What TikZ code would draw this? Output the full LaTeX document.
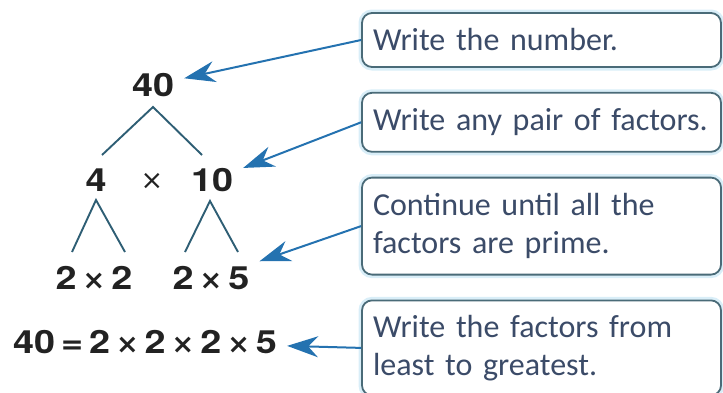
\documentclass[tikz,border=0pt]{standalone}
\usepackage{fontspec}
\setmainfont{Carlito}
\newfontfamily\numfont[FakeStretch=1.18]{TeX Gyre Heros}
\newfontfamily\symfont{DejaVu Sans}
\definecolor{boxline}{HTML}{4A6B78}
\definecolor{glow}{HTML}{D9EEF8}
\definecolor{boxtext}{HTML}{3B4B68}
\definecolor{arrowblue}{HTML}{2472B0}
\definecolor{branchc}{HTML}{2E5E74}
\definecolor{numc}{HTML}{222222}
\usetikzlibrary{arrows.meta,positioning}
\hyphenpenalty=10000
\newcommand\tm{\hspace{6pt}{\symfont\bfseries\fontsize{27}{30}\selectfont ×}\hspace{6pt}}
\newcommand\eqs{\hspace{6pt}=\hspace{6pt}}
\tikzset{
  note_box/.style={draw=boxline,line width=1.8pt,fill=white,rounded corners=10pt,
    preaction={draw=glow,line width=7pt},
    minimum width=359pt,text width=337pt,inner xsep=11pt,align=left,
    font=\fontsize{32}{38}\selectfont\color{boxtext}},
  num_node/.style={inner sep=10pt,font=\numfont\bfseries\fontsize{32}{36}\selectfont\color{numc}},
  branch/.style={draw=branchc,line width=1.9pt},
  arr/.style={-{Stealth[length=31pt,width=21pt,inset=10pt]},draw=arrowblue,fill=arrowblue,line width=2pt},
}
\begin{document}
\begin{tikzpicture}[x=1pt,y=-1pt,node distance=24pt]
    \useasboundingbox (0,0) rectangle (723,392);
    % callout boxes
    \node[note_box,minimum height=54pt] (b1) at (541.5,40) {Write the number.};
    \node[note_box,minimum height=59pt,below=of b1] (b2) {Write any pair of factors.};
    \node[note_box,minimum height=97pt,below=of b2] (b3) {Continue until all the\\factors are prime.};
    \node[note_box,minimum height=95pt,below=of b3] (b4) {Write the factors from\\least to greatest.};
    % factor tree
    \node[num_node] (n40) at (153,85) {40};
    \node[num_node] (n4) at (96,180) {4};
    \node[num_node,font=\symfont\fontsize{27}{30}\selectfont\color{numc}] (nx) at (152,181) {×};
    \node[num_node] (n10) at (212,180) {10};
    \node[num_node] (n22) at (94,278) {2\tm2};
    \node[num_node] (n25) at (211,278) {2\tm5};
    \node[num_node] (neq) at (145,342) {40\eqs2\tm2\tm2\tm5};
    \coordinate (t0) at (153,107); \coordinate (t1) at (102,155); \coordinate (t2) at (202,155);
    \coordinate (l0) at (96,200); \coordinate (l1) at (72,252); \coordinate (l2) at (125,252);
    \coordinate (r0) at (210,201); \coordinate (r1) at (185,252); \coordinate (r2) at (238,252);
    \draw[branch](t1)--(t0)--(t2);\draw[branch](l1)--(l0)--(l2);\draw[branch](r1)--(r0)--(r2);
    % pointers
    \draw[arr](b1.west)--(n40);\draw[arr](b2.west)--(n10);\draw[arr](b3.west)--(n25);\draw[arr](b4.west)--(neq);
\end{tikzpicture}
\end{document}
